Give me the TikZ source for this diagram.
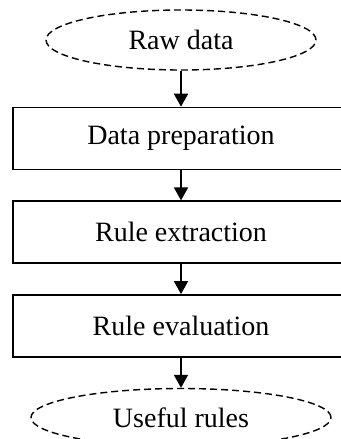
\documentclass[tikz,border=0pt]{standalone}
\usepackage{fontspec}
\setmainfont{Liberation Serif}
\usepackage{tikz}
\usetikzlibrary{arrows.meta,positioning,shapes.geometric,chains}
\tikzset{
  endnode/.style={ellipse, draw=black, dash pattern=on 7pt off 4pt, line width=1.4pt, align=center,
                  font=\fontsize{28}{32}\selectfont, minimum width=270pt, minimum height=60pt, inner sep=0pt},
  stepbox/.style={draw=black, line width=1.7pt, align=center,
                  font=\fontsize{28}{32}\selectfont, minimum width=336pt, minimum height=62pt, inner sep=0pt},
  flowarr/.style={-{Triangle[length=13pt,width=14pt]}, line width=1.8pt, black}
}
\begin{document}
\begin{tikzpicture}[x=1pt, y=-1pt, start chain=going below, node distance=30pt, every join/.style={flowarr}]
\useasboundingbox (0,0) rectangle (340,439);
\node[endnode, on chain] (raw) at (181,40) {Raw data};
\node[stepbox, on chain, join, below=36pt of raw] (prep) {Data preparation};
\node[stepbox, on chain, join] (extract) {Rule extraction};
\node[stepbox, on chain, join] (eval) {Rule evaluation};
\node[endnode, on chain, join, minimum width=300pt, minimum height=58pt] (useful) {Useful rules};
\end{tikzpicture}
\end{document}
